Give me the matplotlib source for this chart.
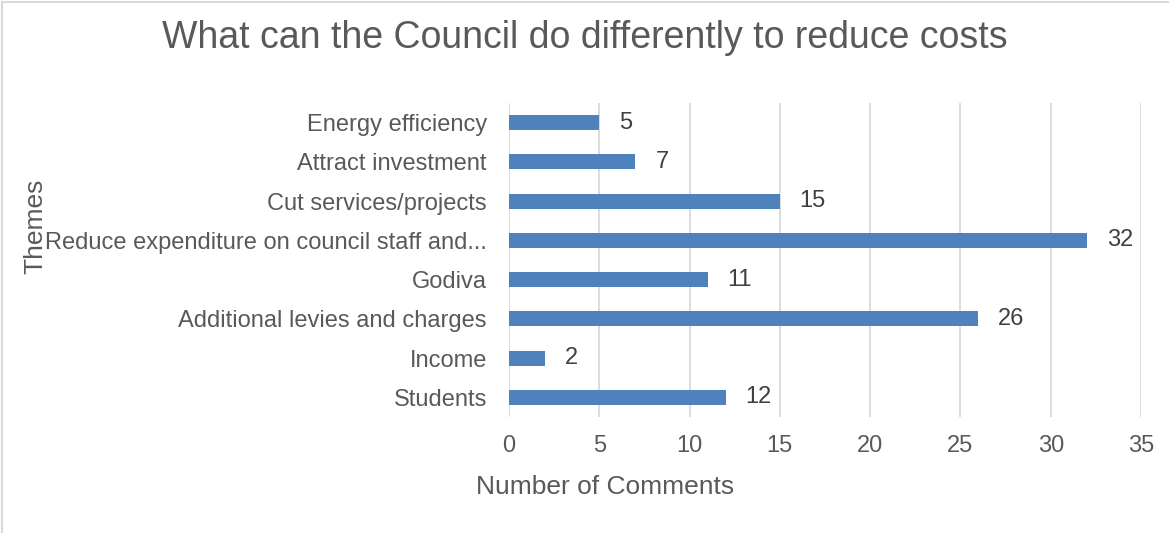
import matplotlib
matplotlib.use("Agg")
import matplotlib.pyplot as plt
from matplotlib.patches import Rectangle

plt.rcParams['font.family'] = ['Liberation Sans', 'DejaVu Sans']

themes = ["Energy efficiency", "Attract investment", "Cut services/projects",
          "Reduce expenditure on council staff and...", "Godiva",
          "Additional levies and charges", "Income", "Students"]
comments = [5, 7, 15, 32, 11, 26, 2, 12]
xticks = [0, 5, 10, 15, 20, 25, 30, 35]

grey = '#595959'
fig = plt.figure(figsize=(11.69, 5.33), dpi=100)
ax = fig.add_axes([509/1169, 1-417/533, (1141-509)/1169, (417-103)/533])

pos = list(range(len(themes)))
ax.barh(pos, comments, height=0.38, color='#4F81BD', zorder=3)
for y, v in zip(pos, comments):
    ax.text(v + 1.1, y, str(v), va='center', ha='left', fontsize=17, color='#404040')

ax.set_ylim(len(themes) - 0.5, -0.5)
ax.set_xlim(0, 35)
ax.set_xticks(xticks)
ax.set_yticks(pos)
ax.set_yticklabels(themes)
ax.grid(axis='x', color='#D9D9D9', linewidth=1.3, zorder=0)
for s in ax.spines.values():
    s.set_visible(False)
ax.tick_params(axis='both', length=0, labelsize=17, labelcolor=grey)
ax.tick_params(axis='y', pad=16)
ax.tick_params(axis='x', pad=13)

fig.text(585/1169, 1-38/533, "What can the Council do differently to reduce costs",
         ha='center', va='center', fontsize=27, color=grey)
fig.text(35/1169, 1-226/533, "Themes", rotation=90, ha='center', va='center',
         fontsize=19, color=grey)
fig.text(605/1169, 1-487/533, "Number of Comments", ha='center', va='center',
         fontsize=19, color=grey)

fig.patches.append(Rectangle((2/1169, -0.05), 1.1, 1.05 - 2/533, transform=fig.transFigure,
                             fill=False, edgecolor='#D9D9D9', linewidth=1.5))

fig.savefig("out.png", dpi=100)
